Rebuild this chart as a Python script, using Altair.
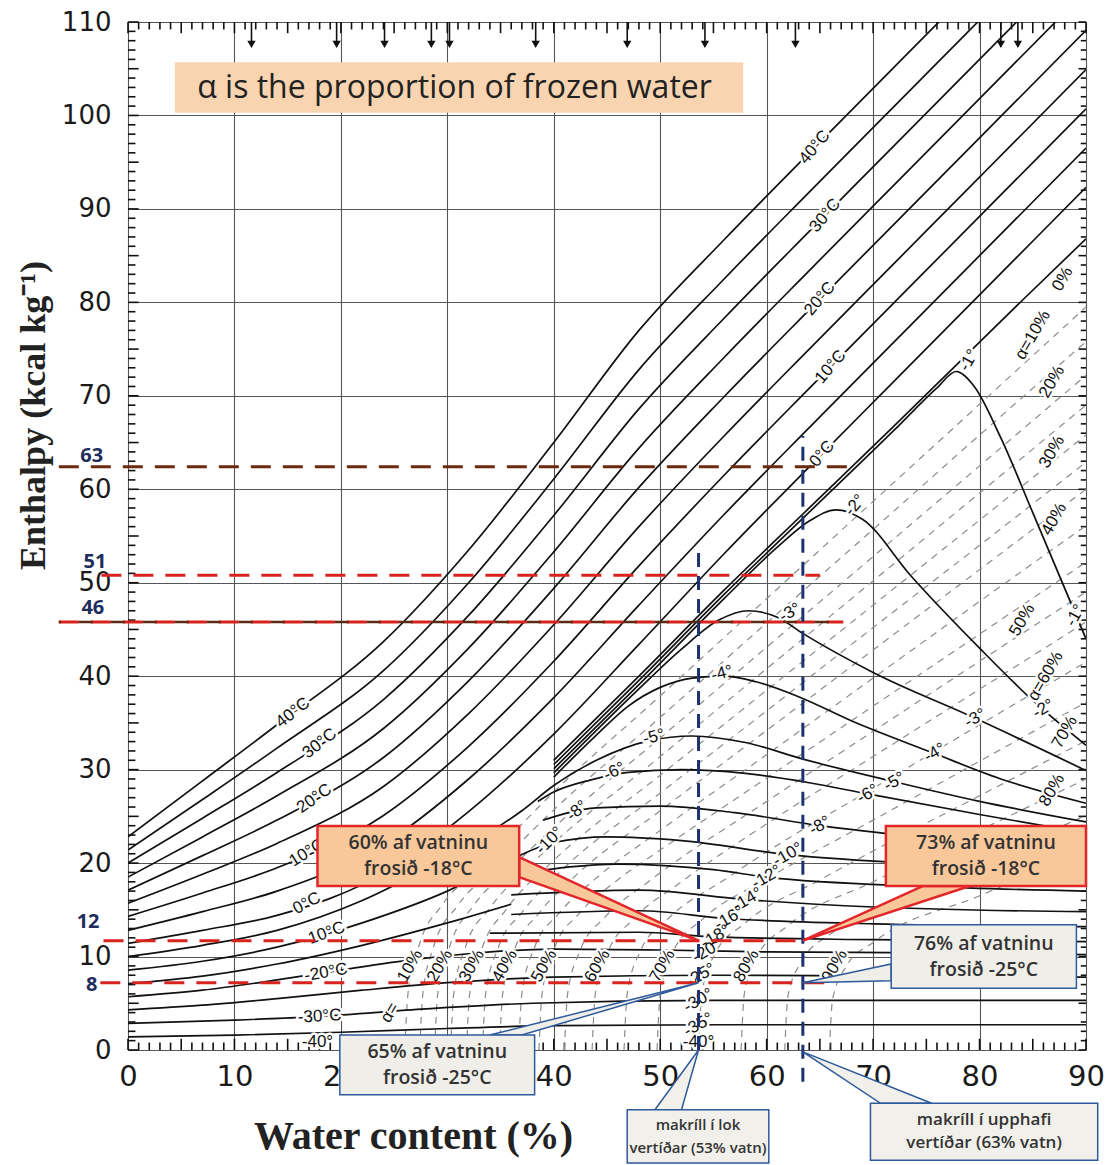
import altair as alt
import pandas as pd

# ------------------------------------------------------------------ axes
X_TICKS = [0, 10, 20, 30, 40, 50, 60, 70, 80, 90]
Y_TICKS = [0, 10, 20, 30, 40, 50, 60, 70, 80, 90, 100, 110]
MINOR_X = list(range(0, 91))
MINOR_Y = list(range(0, 111))

# ------------------------------------------------------------------ isotherms >= 0 °C (H read at these water contents)
WARM_W = [0, 7, 14, 24, 32, 40, 48, 56, 64, 72, 80, 90]
WARM_T = [40, 35, 30, 25, 20, 15, 10, 5, 0]
WARM_H = [
    [22.8, 28.8, 34.8, 43.7, 53.5, 65.0, 77.0, 86.7, 96.0, 105.2, 114.4, 125.9],
    [21.4, 26.8, 32.3, 40.6, 50.0, 61.1, 72.8, 82.5, 91.8, 101.0, 110.2, 121.7],
    [20.0, 24.8, 29.7, 37.5, 46.5, 57.2, 68.6, 78.3, 87.6, 96.8, 106.0, 117.5],
    [18.5, 22.8, 27.2, 34.4, 43.0, 53.3, 64.4, 74.1, 83.4, 92.6, 101.8, 113.3],
    [17.1, 20.8, 24.6, 31.3, 39.5, 49.4, 60.2, 69.9, 79.2, 88.4, 97.6, 109.1],
    [15.7, 18.8, 22.1, 28.2, 36.0, 45.5, 56.0, 65.7, 75.0, 84.2, 93.4, 104.9],
    [14.3, 16.8, 19.5, 25.1, 32.5, 41.6, 51.8, 61.5, 70.8, 80.0, 89.2, 100.7],
    [12.8, 14.8, 17.0, 22.0, 29.0, 37.7, 47.6, 57.3, 66.6, 75.8, 85.0, 96.5],
    [11.4, 12.8, 14.4, 18.9, 25.5, 33.8, 43.4, 53.1, 62.4, 71.6, 80.8, 92.3],
]

# ------------------------------------------------------------------ initial-freezing line and sub-zero isotherms
COLD = [
    ("a0", [40, 48, 56, 64, 72, 78, 84, 90], [31.0, 40.0, 49.2, 58.0, 66.8, 73.5, 80.2, 86.8]),
    ("-1", [40, 48, 56, 64, 72, 76, 77.8, 79.5, 82, 85, 90],
           [30.55, 39.55, 48.75, 57.55, 66.35, 70.85, 72.6, 71.0, 65.5, 57.5, 44.0]),
    ("-2", [40, 48, 56, 61, 64, 66.5, 69, 73.5, 80, 85, 90],
           [30.1, 39.1, 48.3, 53.8, 56.6, 57.8, 56.8, 50.8, 43.0, 37.4, 32.6]),
    ("-3", [40, 48, 52, 55.5, 58.3, 61, 63.5, 70, 79.4, 90],
           [29.65, 38.65, 42.9, 46.0, 47.0, 46.3, 44.5, 40.4, 35.6, 29.9]),
    ("-4", [40, 44, 47, 50, 53, 56, 59, 63, 68, 75.6, 82, 90],
           [29.2, 33.7, 36.8, 38.8, 39.8, 40.0, 39.4, 37.8, 35.2, 31.8, 29.0, 26.4]),
    ("-5", [0, 7, 14, 22, 28, 34, 37, 40, 44, 49, 53, 58, 63.5, 72, 80, 90],
           [10.0, 11.2, 12.8, 16.0, 19.4, 23.3, 25.6, 28.3, 31.0, 33.1, 33.6, 32.9, 31.1, 28.7, 26.6, 24.4]),
    ("-6", [38.5, 40, 43.5, 47, 52, 58, 64, 69.5, 80, 90],
           [26.6, 27.6, 28.9, 29.7, 30.0, 29.6, 28.6, 27.4, 25.2, 23.2]),
    ("-8", [39, 44, 50, 57, 65, 75, 90], [24.6, 25.9, 26.1, 25.4, 24.0, 22.7, 21.2]),
    ("-10", [0, 7, 14, 22, 30, 36, 40, 45, 52, 62, 75, 90],
            [8.55, 9.5, 11.0, 13.6, 17.0, 20.4, 22.2, 22.8, 22.4, 20.9, 19.9, 19.3]),
    ("-12", [37, 46, 55, 60, 75, 90], [18.9, 19.9, 19.3, 18.5, 17.5, 17.0]),
    ("-15", [0, 7, 14, 22, 30, 36], [7.1, 7.9, 9.2, 11.2, 13.6, 15.6]),
    ("-14", [36, 48, 58, 70, 90], [16.6, 17.1, 16.1, 15.3, 14.8]),
    ("-16", [36, 48, 56, 70, 90], [14.5, 14.9, 14.1, 13.5, 13.2]),
    ("-18", [34, 48, 55, 70, 90], [12.5, 12.6, 12.1, 11.8, 11.6]),
    ("-20", [0, 7, 14, 18.6, 25, 32, 40, 50, 60, 75, 90],
            [5.7, 6.4, 7.5, 8.3, 9.4, 10.3, 10.8, 10.7, 10.5, 10.4, 10.2]),
    ("-25", [0, 7, 14, 22, 30, 40, 55, 75, 90], [4.3, 4.8, 5.5, 6.4, 7.2, 7.8, 8.0, 7.9, 7.8]),
    ("-30", [0, 10, 18, 28, 38, 55, 90], [2.85, 3.2, 3.6, 4.4, 5.0, 5.3, 5.3]),
    ("-35", [0, 10, 20, 30, 40, 55, 90], [1.4, 1.6, 1.9, 2.3, 2.6, 2.7, 2.7]),
]

# ------------------------------------------------------------------ lines of constant proportion of frozen water (alpha)
ALPHA = [
    ("10", [26.0, 26.3, 27.3, 29.5, 33, 40, 50, 60, 70, 80, 90], [0, 6, 11, 15.5, 19.5, 27.6, 37.9, 48.3, 58.7, 69.1, 79.5]),
    ("15", [27.4, 27.7, 28.7, 31.0, 34.5, 40, 50, 60, 70, 80, 90], [0, 6, 11, 15.5, 19.5, 25.7, 35.6, 45.7, 55.7, 65.8, 75.8]),
    ("20", [28.8, 29.1, 30.2, 32.5, 36, 40, 50, 60, 70, 80, 90], [0, 6, 11, 15.5, 19.5, 23.8, 33.4, 43.1, 52.8, 62.5, 72.2]),
    ("25", [30.3, 30.6, 31.7, 34.0, 38, 50, 60, 70, 80, 90], [0, 6, 11, 15.2, 20.0, 31.4, 40.8, 50.2, 59.6, 69.0]),
    ("30", [31.8, 32.1, 33.3, 35.5, 40, 50, 60, 70, 80, 90], [0, 6, 11, 15, 20.3, 29.4, 38.5, 47.6, 56.7, 65.8]),
    ("35", [33.3, 33.6, 34.8, 37.0, 41, 50, 60, 70, 80, 90], [0, 6, 11, 14.7, 19.5, 27.5, 36.3, 45.2, 54.0, 62.9]),
    ("40", [34.9, 35.2, 36.4, 38.5, 42, 50, 60, 70, 80, 90], [0, 6, 11, 14.5, 18.6, 25.6, 34.2, 42.8, 51.4, 60.0]),
    ("45", [36.7, 37.0, 38.2, 40.4, 44, 50, 60, 70, 80, 90], [0, 6, 11, 14.5, 18.4, 23.5, 31.6, 39.8, 48.0, 56.1]),
    ("50", [38.6, 38.9, 40.1, 42.3, 46, 50, 60, 70, 80, 90], [0, 6, 11, 14.5, 18.2, 21.4, 29.1, 36.8, 44.5, 52.2]),
    ("55", [41.0, 41.3, 42.5, 44.8, 49, 60, 70, 80, 90], [0, 6, 10.7, 14.2, 18.1, 26.6, 34.1, 41.6, 49.0]),
    ("60", [43.6, 43.9, 45.1, 47.5, 52, 60, 70, 80, 90], [0, 6, 10.5, 14, 18.0, 24.2, 31.4, 38.6, 45.8]),
    ("65", [46.6, 46.9, 48.1, 50.7, 56, 60, 70, 80, 90], [0, 6, 10.5, 14, 18.2, 21.2, 28.0, 34.8, 41.5]),
    ("70", [49.7, 50.0, 51.2, 54, 60, 70, 80, 90], [0, 6, 10.5, 14, 18.3, 24.6, 30.9, 37.2]),
    ("75", [53.6, 53.9, 55.1, 58, 65, 70, 80, 90], [0, 6, 10.2, 13.6, 18.2, 21.3, 27.2, 33.1]),
    ("80", [57.6, 57.9, 59.1, 62, 70, 80, 90], [0, 6, 10, 13.3, 18.0, 23.5, 29.0]),
    ("85", [61.7, 62.0, 63.3, 66, 70, 80, 90], [0, 5.8, 9.5, 12.4, 14.8, 20.0, 25.1]),
    ("90", [65.9, 66.2, 67.5, 70, 80, 90], [0, 5.5, 9, 11.5, 16.5, 21.3]),
]

# ------------------------------------------------------------------ labels on the diagram (text, water %, enthalpy, angle)
LINE_LABELS = [
    ("40°C", 15.5, 36.1, 322), ("30°C", 18.0, 32.8, 322), ("20°C", 17.5, 26.9, 325),
    ("10°C", 16.8, 21.1, 328), ("0°C", 16.8, 15.7, 332), ("-10°C", 18.4, 12.4, 340),
    ("-20°C", 18.6, 8.3, 350), ("-30°C", 18.0, 3.6, 357), ("-40°", 17.8, 0.9, 0),
    ("40°C", 64.5, 96.6, 310), ("30°C", 65.5, 89.3, 310), ("20°C", 65.0, 80.4, 310),
    ("10°C", 66.0, 73.1, 310), ("0°C", 65.2, 63.8, 310),
    ("-1°", 79.0, 73.8, 300), ("-2°", 68.3, 58.3, 310), ("-3°", 62.2, 46.8, 330),
    ("-4°", 55.8, 40.3, 345), ("-5°", 49.4, 33.5, 345), ("-6°", 45.7, 29.8, 335),
    ("-8°", 42.2, 25.6, 320), ("-10°", 39.6, 22.4, 315),
    ("-3°", 79.6, 35.5, 330), ("-4°", 75.8, 31.8, 330), ("-5°", 72.0, 28.7, 330),
    ("-6°", 69.5, 27.4, 330), ("-8°", 65.0, 24.0, 330), ("-10°", 62.0, 20.9, 330),
    ("-12°", 60.0, 18.5, 330), ("-14°", 58.2, 16.1, 330), ("-16°", 56.5, 14.1, 330),
    ("-18°", 55.2, 12.1, 330), ("-20°", 54.4, 10.6, 330), ("-25°", 53.8, 8.0, 330),
    ("-30°", 53.6, 5.3, 330), ("-35°", 53.6, 2.7, 330), ("-40°", 53.6, 0.9, 0),
    ("-2°", 86.0, 36.5, 330), ("-1°", 89.0, 46.5, 300),
    ("0%", 87.8, 82.5, 300), ("α=10%", 85.0, 76.5, 300), ("20%", 86.8, 71.5, 300),
    ("30%", 86.8, 64.0, 300), ("40%", 87.0, 56.8, 300), ("50%", 84.0, 46.0, 300),
    ("α=60%", 86.2, 40.0, 300), ("70%", 88.0, 34.0, 300), ("80%", 86.8, 27.8, 300),
    ("α=", 24.6, 4.0, 300), ("10%", 26.5, 9.0, 300), ("20%", 29.3, 9.0, 300),
    ("30%", 32.3, 9.0, 300), ("40%", 35.4, 9.0, 300), ("50%", 39.1, 9.0, 300),
    ("60%", 44.1, 9.0, 300), ("70%", 50.2, 9.0, 300), ("80%", 58.1, 9.0, 300),
    ("90%", 66.4, 9.0, 300),
]

# ------------------------------------------------------------------ arrows on the top edge (water %)
ARROWS_W = [11.6, 19.6, 24.1, 28.5, 30.2, 38.3, 46.9, 54.2, 62.7, 82.0, 83.6]

# ------------------------------------------------------------------ annotation overlay
TITLE_TEXT = "α is the proportion of frozen water"
REF_TEXT = ["63", "51", "46", "12", "8"]
REF_H = [62.4, 50.8, 45.8, 11.7, 7.2]          # where the dashed lines are drawn
REF_W0 = [-6.5, -2.5, -6.5, -2.3, -2.6]
REF_W1 = [68.0, 65.0, 67.2, 63.0, 65.8]
REF_COLOR = ["#6b2a10", "#d8231f", "#d8231f", "#d8231f", "#d8231f"]
REF_LABEL_W = [-3.4, -3.1, -3.3, -3.75, -3.4]
REF_LABEL_H = [63.6, 52.2, 47.3, 13.7, 7.0]

FISH_W = [53.6, 63.4]            # vertical blue dashed lines (53 % and 63 % water)
FISH_H0 = [0.0, -3.4]
FISH_H1 = [53.9, 65.7]

BOX_TEXT = ["60% af vatninu\nfrosið  -18°C", "73% af vatninu\nfrosið -18°C",
            "76% af vatninu\nfrosið -25°C", "65% af vatninu\nfrosið  -25°C",
            "makríll í lok\nvertíðar (53% vatn)", "makríll í upphafi\nvertíðar (63% vatn)"]
BOX_W0 = [17.8, 71.2, 71.7, 19.9, 46.9, 69.75]
BOX_W1 = [36.75, 90.0, 89.1, 38.2, 60.2, 91.1]
BOX_H0 = [17.55, 17.55, 6.6, -4.8, -12.1, -11.8]
BOX_H1 = [23.97, 23.97, 13.4, 1.6, -6.4, -5.7]
BOX_FILL = ["#f8c79a", "#f8c79a", "#efeee8", "#efeee8", "#f1f0ea", "#f1f0ea"]
BOX_STROKE = ["#e3262a", "#e3262a", "#2e5a9c", "#2e5a9c", "#2e5a9c", "#2e5a9c"]
BOX_SW = [2.5, 2.5, 1.5, 1.5, 1.5, 1.5]
BOX_FS = [19.5, 19.5, 19.5, 19.5, 15, 17]
BOX_DY = [-13, -13, -13, -13, -11, -12]
# callout tails: base (two points on the box edge) -> tip on the chart
TAIL_V = [  # base on a vertical box edge: (box, w, h_a, h_b, w_tip, h_tip)
    (0, 36.75, 20.65, 18.5, 53.6, 11.7),
    (2, 71.7, 9.2, 7.4, 63.4, 7.2),
]
TAIL_H = [  # base on a horizontal box edge: (box, h, w_a, w_b, h_tip, w_tip)
    (1, 17.55, 74.7, 79.1, 11.7, 63.4),
    (3, 1.6, 34.0, 37.0, 7.2, 53.6),
    (4, -6.4, 49.5, 52.0, 0.0, 53.6),
    (5, -5.7, 70.7, 75.5, -0.2, 63.4),
]

# ================================================================== chart
XD = alt.Scale(domain=[0, 90], nice=False, zero=False)
YD = alt.Scale(domain=[0, 110], nice=False, zero=False)

X_AXIS = alt.Axis(values=X_TICKS, grid=True, gridColor="#555555", gridWidth=1.1, ticks=False,
                  domain=False, labelFont="DejaVu Sans", labelFontSize=29, labelColor="#1a1a1a",
                  labelPadding=12, labelFlush=False, title="Water content (%)",
                  titleFont="Liberation Serif", titleFontSize=40, titleFontWeight="bold",
                  titleColor="#222222", titleX=285, titleY=86, titleAlign="center",
                  titleBaseline="middle")
Y_AXIS = alt.Axis(values=Y_TICKS, grid=True, gridColor="#555555", gridWidth=1.1, ticks=False,
                  domain=False, labelFont="DejaVu Sans", labelFontSize=26, labelColor="#1a1a1a",
                  labelPadding=17, labelFlush=False, title="Enthalpy  (kcal kg⁻¹)",
                  titleFont="Liberation Serif", titleFontSize=36, titleFontWeight="bold",
                  titleColor="#222222", titleX=-95, titleY=393, titleAngle=270,
                  titleAlign="center", titleBaseline="middle")


def xs(field="w"):
    return alt.X(f"{field}:Q", scale=XD, axis=X_AXIS)


def ys(field="h"):
    return alt.Y(f"{field}:Q", scale=YD, axis=Y_AXIS)


# ticks of the frame (inside)
tick_rows = []
for w in MINOR_X:
    L = 1.2 if w % 5 == 0 else 0.8
    tick_rows.append(dict(w=w, h=0, w2=w, h2=L))
    tick_rows.append(dict(w=w, h=110, w2=w, h2=110 - L))
for h in MINOR_Y:
    L = 1.0 if h % 5 == 0 else 0.7
    tick_rows.append(dict(w=0, h=h, w2=L, h2=h))
    tick_rows.append(dict(w=90, h=h, w2=90 - L * 0.7, h2=h))
ticks = alt.Chart(pd.DataFrame(tick_rows)).mark_rule(color="#111", strokeWidth=1.6).encode(
    x=xs("w"), y=ys("h"), x2="w2:Q", y2="h2:Q")

# alpha lines
arows = []
for name, ws, hs in ALPHA:
    for i, (w, h) in enumerate(zip(ws, hs)):
        arows.append(dict(id=name, w=w, h=h, o=i))
alpha_lines = alt.Chart(pd.DataFrame(arows)).mark_line(
    color="#8c8c8c", strokeWidth=1.2, strokeDash=[7, 6], interpolate="monotone", clip=True
).encode(x=xs(), y=ys(), detail="id:N", order="o:Q")

# isotherms
irows = []
for T, hs in zip(WARM_T, WARM_H):
    for i, (w, h) in enumerate(zip(WARM_W, hs)):
        irows.append(dict(id=f"t{T}", w=w, h=h, o=i))
for name, ws, hs in COLD:
    for i, (w, h) in enumerate(zip(ws, hs)):
        irows.append(dict(id=name, w=w, h=h, o=i))
iso = alt.Chart(pd.DataFrame(irows)).mark_line(
    color="#111", strokeWidth=1.7, interpolate="monotone", clip=True
).encode(x=xs(), y=ys(), detail="id:N", order="o:Q")

# labels
ldf = pd.DataFrame([dict(t=t, w=w, h=h, a=a) for t, w, h, a in LINE_LABELS])
lab_halo = alt.Chart(ldf).mark_text(font="Liberation Sans", fontSize=17, color="white",
                                    stroke="white", strokeWidth=5, strokeJoin="round").encode(
    x=xs(), y=ys(), text="t:N", angle=alt.Angle("a:Q", scale=None))
lab = alt.Chart(ldf).mark_text(font="Liberation Sans", fontSize=17, color="#111").encode(
    x=xs(), y=ys(), text="t:N", angle=alt.Angle("a:Q", scale=None))

# reference dashed lines
rdf = pd.DataFrame(dict(h=REF_H, w0=REF_W0, w1=REF_W1, c=REF_COLOR))
ref_lines = alt.Chart(rdf).mark_rule(strokeWidth=3, strokeDash=[20, 12]).encode(
    x=xs("w0"), x2="w1:Q", y=ys(), color=alt.Color("c:N", scale=None))
ref_46 = alt.Chart(rdf.iloc[[2]]).mark_rule(strokeWidth=2.5, strokeDash=[14, 18],
                                             strokeDashOffset=12, color="#5a2a12").encode(
    x=xs("w0"), x2="w1:Q", y=ys())
fdf = pd.DataFrame(dict(w=FISH_W, h0=FISH_H0, h1=FISH_H1))
fish_lines = alt.Chart(fdf).mark_rule(strokeWidth=3, strokeDash=[14, 9], color="#1c3270").encode(
    x=xs(), y=ys("h0"), y2="h1:Q")

# arrows
ardf = pd.DataFrame(dict(w=ARROWS_W, top=[110] * len(ARROWS_W), bot=[107.6] * len(ARROWS_W)))
arrow_shaft = alt.Chart(ardf).mark_rule(color="#111", strokeWidth=1.6).encode(
    x=xs(), y=ys("top"), y2="bot:Q")
arrow_head = alt.Chart(ardf).mark_point(shape="triangle-down", filled=True, size=70,
                                        color="#111", opacity=1).encode(x=xs(), y=ys("bot"))

# title box
tdf = pd.DataFrame(dict(w0=[4.4], w1=[57.8], h0=[100.3], h1=[105.7], tw=[6.5], th=[102.9], t=[TITLE_TEXT]))
title_box = alt.Chart(tdf).mark_rect(color="#f9d4b0").encode(
    x=xs("w0"), x2="w1:Q", y=ys("h0"), y2="h1:Q")
title_txt = alt.Chart(tdf).mark_text(font="Open Sans", fontSize=32, color="#222", align="left",
                                     baseline="middle").encode(x=xs("tw"), y=ys("th"), text="t:N")

# callout tails
tail_layers = []
for b, w, ha, hb, wt, ht in TAIL_V:
    d = pd.DataFrame(dict(w=[w, wt], h=[ha, ht], h2=[hb, ht]))
    tail_layers.append(alt.Chart(d).mark_area(orient="vertical", fill=BOX_FILL[b], stroke=BOX_STROKE[b],
                                              strokeWidth=BOX_SW[b], opacity=1).encode(
        x=xs(), y=ys(), y2="h2:Q"))
for b, h, wa, wb, ht, wt in TAIL_H:
    d = pd.DataFrame(dict(h=[h, ht], w=[wa, wt], w2=[wb, wt]))
    tail_layers.append(alt.Chart(d).mark_area(orient="horizontal", fill=BOX_FILL[b], stroke=BOX_STROKE[b],
                                              strokeWidth=BOX_SW[b], opacity=1).encode(
        y=ys(), x=xs(), x2="w2:Q"))

bdf = pd.DataFrame(dict(t=BOX_TEXT, w0=BOX_W0, w1=BOX_W1, h0=BOX_H0, h1=BOX_H1,
                        fill=BOX_FILL, stroke=BOX_STROKE, sw=BOX_SW, fs=BOX_FS))
bdf["wc"] = (bdf.w0 + bdf.w1) / 2
bdf["hc"] = (bdf.h0 + bdf.h1) / 2
boxes = alt.Chart(bdf).mark_rect(opacity=1).encode(
    x=xs("w0"), x2="w1:Q", y=ys("h0"), y2="h1:Q",
    fill=alt.Fill("fill:N", scale=None), stroke=alt.Stroke("stroke:N", scale=None),
    strokeWidth=alt.StrokeWidth("sw:Q", scale=None))
box_txt_layers = []
for i in range(len(BOX_TEXT)):
    lh = 26 if BOX_FS[i] > 18 else 23
    box_txt_layers.append(
        alt.Chart(bdf.iloc[[i]]).mark_text(font="Open Sans", fontWeight=600, color="#333",
                                           fontSize=BOX_FS[i], lineBreak="\n", lineHeight=lh,
                                           baseline="middle", dy=BOX_DY[i]).encode(
            x=xs("wc"), y=ys("hc"), text="t:N"))

ndf = pd.DataFrame(dict(t=REF_TEXT, w=REF_LABEL_W, h=REF_LABEL_H))
num_txt = alt.Chart(ndf).mark_text(font="Open Sans", fontWeight="bold", fontSize=20,
                                   color="#1f2d5c").encode(x=xs(), y=ys(), text="t:N")

chart = alt.layer(
    ticks, alpha_lines, iso, lab_halo, lab, ref_lines, ref_46, fish_lines,
    arrow_shaft, arrow_head, title_box, title_txt, *tail_layers, boxes, *box_txt_layers, num_txt
).properties(
    width=958, height=1028,
    padding={"left": 120, "top": 14, "right": 18, "bottom": 115},
    autosize=alt.AutoSizeParams(type="none"),
).configure_view(stroke="#000", strokeWidth=2.5).configure(background="white")

chart.save("out.html", embed_options={"renderer": "svg", "actions": False})
